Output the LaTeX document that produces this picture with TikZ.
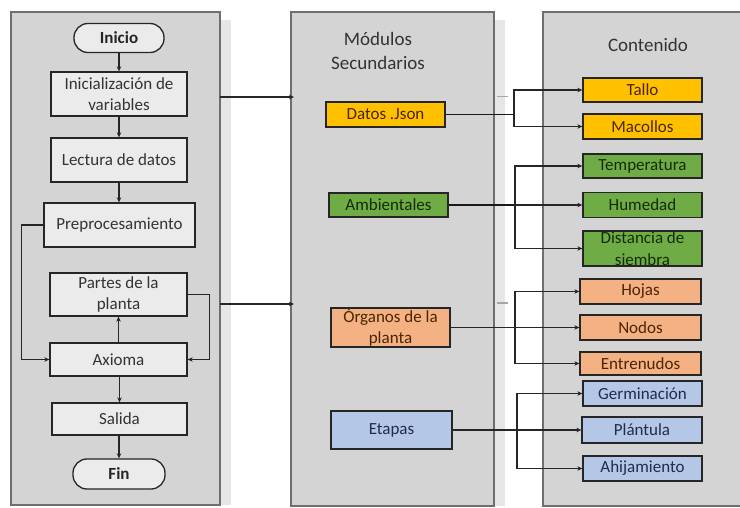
\documentclass[tikz,border=0pt]{standalone}
\usepackage{fontspec}
\setmainfont{Carlito}
\usetikzlibrary{arrows.meta}
\definecolor{panelfill}{HTML}{D4D4D4}
\definecolor{panelline}{HTML}{6E6E6E}
\definecolor{shadowfill}{HTML}{E6E6E6}
\definecolor{boxfill}{HTML}{EBEBEB}
\definecolor{txtgray}{HTML}{333333}
\definecolor{cyellow}{HTML}{FFC000}
\definecolor{cgreen}{HTML}{6FAC46}
\definecolor{corange}{HTML}{F4B183}
\definecolor{cblue}{HTML}{B4C7E7}
\definecolor{tbrown}{HTML}{4A2600}
\definecolor{tgreen}{HTML}{142B08}
\definecolor{tnavy}{HTML}{1F2D4A}
\tikzset{
  panel/.style={fill=panelfill, draw=panelline, line width=1.3pt},
  shadowstrip/.style={fill=shadowfill, draw=none},
  base/.style={draw=black!85, line width=1.3pt, inner sep=0pt, align=center,
    font=\fontsize{17}{21.5}\selectfont},
  flow/.style={base, fill=boxfill, text=txtgray},
  terminal/.style={flow, rounded corners=14pt, font=\fontsize{17}{21.5}\selectfont\bfseries, text=black!85},
  yelbox/.style={base, fill=cyellow, text=tbrown},
  grnbox/.style={base, fill=cgreen, text=tgreen},
  orgbox/.style={base, fill=corange, text=tbrown},
  blubox/.style={base, fill=cblue, text=tnavy},
  title/.style={text=txtgray, align=center, font=\fontsize{19}{24}\selectfont},
  arr/.style={-{Stealth[length=5pt,width=4.5pt]}, line width=1.2pt, draw=black!85},
  link/.style={line width=1.2pt, draw=black!85},
  thick link/.style={line width=1.9pt, draw=black!90},
  faint/.style={draw=black!35, line width=1pt}
}
\begin{document}
\begin{tikzpicture}[x=1pt, y=-1pt]
\useasboundingbox (0,0) rectangle (740,508);
\fill[white] (0,0) rectangle (740,508);

% column panels with their side shading
\fill[shadowstrip] (220,20) rectangle (231,505);
\fill[shadowstrip] (494,20) rectangle (505,506);
\draw[panel] (11,12) rectangle (220,505);
\draw[panel] (291,12) rectangle (494,506);
\draw[panel] (543,12) rectangle (750,506);
\draw[faint] (497,97) -- (508,97);
\draw[faint] (497,303) -- (508,303);

% titles
\node[title] (tmod) at (378,51) {Módulos\\Secundarios};
\node[title] (tcon) at (648,45) {Contenido};

% main flow
\node[terminal, minimum width=90pt, minimum height=29pt] (ini) at (119,38) {Inicio};
\node[flow, minimum width=136pt, minimum height=44pt] (var) at (119,94) {Inicialización de\\variables};
\node[flow, minimum width=136pt, minimum height=44pt] (lec) at (119,160) {Lectura de datos};
\node[flow, minimum width=151pt, minimum height=44pt] (pre) at (119.5,225) {Preprocesamiento};
\node[flow, minimum width=137pt, minimum height=43pt] (par) at (118.5,294.5) {Partes de la\\planta};
\node[flow, minimum width=137pt, minimum height=33pt] (axi) at (118.5,359.5) {Axioma};
\node[flow, minimum width=135pt, minimum height=32pt] (sal) at (119.5,419) {Salida};
\node[terminal, minimum width=92pt, minimum height=30pt] (fin) at (119,474) {Fin};

\draw[arr] (ini) -- (var);
\draw[arr] (var) -- (lec);
\draw[arr] (lec) -- (pre.north -| lec);
\draw[arr] (pre.west) -- ++(-22,0) |- (axi.west);
\draw[arr] (par.east) -- ++(22,0) |- (axi.east);
\draw[arr] (axi.north -| par) -- (par.south);
\draw[arr] (axi.south -| sal) -- (sal.north);
\draw[arr] (sal.south -| fin) -- (fin.north);

% links from the flow to the modules
\coordinate (o1) at (220,97);
\coordinate (d1) at (294,97);
\coordinate (o2) at (220,304);
\coordinate (d2) at (294,304);
\draw[arr] (o1) -- (d1);
\draw[arr] (o2) -- (d2);

% modules
\node[yelbox, minimum width=119pt, minimum height=25pt] (json) at (385.5,114.5) {Datos .Json};
\node[grnbox, minimum width=119pt, minimum height=24pt] (amb) at (388.5,205) {Ambientales};
\node[orgbox, minimum width=119pt, minimum height=39pt] (org) at (390.5,327.5) {Órganos de la\\planta};
\node[blubox, minimum width=121pt, minimum height=38pt] (eta) at (391.5,430) {Etapas};

% contents
\node[yelbox, minimum width=119pt, minimum height=24pt] (tal) at (642.5,90) {Tallo};
\node[yelbox, minimum width=119pt, minimum height=25pt] (mac) at (642.5,126.5) {Macollos};
\node[grnbox, minimum width=119pt, minimum height=24pt] (tem) at (642.5,166) {Temperatura};
\node[grnbox, minimum width=119pt, minimum height=25pt] (hum) at (642.5,205) {Humedad};
\node[grnbox, minimum width=119pt, minimum height=35pt] (dis) at (642.5,248.5) {Distancia de\\siembra};
\node[orgbox, minimum width=121pt, minimum height=25pt] (hoj) at (640.5,291.5) {Hojas};
\node[orgbox, minimum width=121pt, minimum height=25pt] (nod) at (640.5,327.5) {Nodos};
\node[orgbox, minimum width=121pt, minimum height=23pt] (ent) at (640.5,363.5) {Entrenudos};
\node[blubox, minimum width=119pt, minimum height=25pt] (ger) at (642.5,393.5) {Germinación};
\node[blubox, minimum width=120pt, minimum height=26pt] (pla) at (642,430) {Plántula};
\node[blubox, minimum width=119pt, minimum height=25pt] (ahi) at (642.5,468.5) {Ahijamiento};

% branching connectors
\coordinate (b1) at (514,114.5);
\draw[thick link] (json.east) -- (b1);
\draw[arr] (b1) |- (tal.west);
\draw[arr] (b1) |- (mac.west);

\coordinate (b2) at (515,205);
\draw[thick link] (amb.east) -- (b2);
\draw[arr] (b2) |- (tem.west);
\draw[arr] (b2) -- (hum.west);
\draw[arr] (b2) |- (dis.west);

\coordinate (b3) at (515,327.5);
\draw[link] (org.east) -- (b3);
\draw[arr] (b3) |- (hoj.west);
\draw[arr] (b3) -- (nod.west);
\draw[arr] (b3) |- (ent.west);

\coordinate (b4) at (517,430);
\draw[link] (eta.east) -- (b4);
\draw[arr] (b4) |- (ger.west);
\draw[arr] (b4) -- (pla.west);
\draw[arr] (b4) |- (ahi.west);
\end{tikzpicture}
\end{document}
